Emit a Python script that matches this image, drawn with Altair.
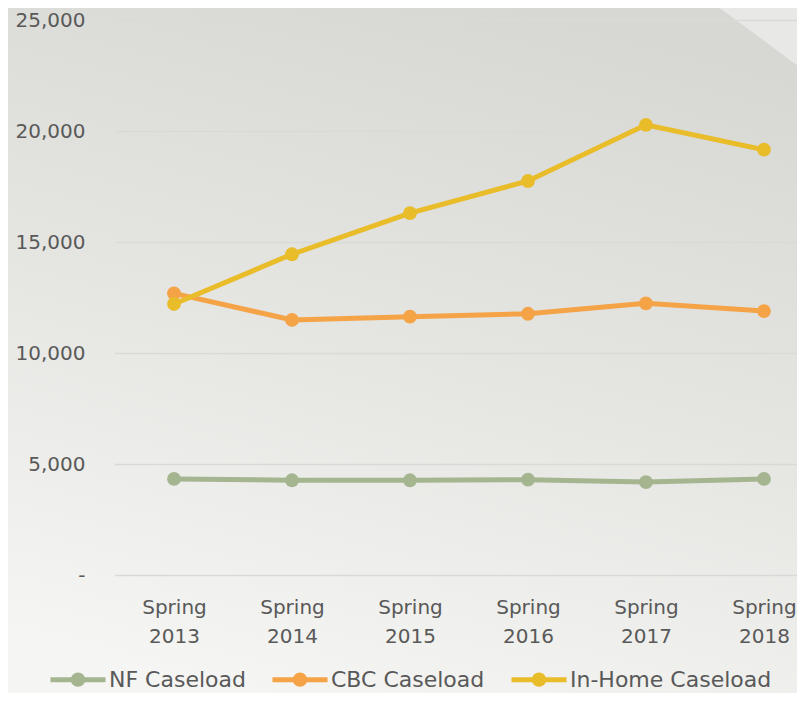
import altair as alt
import pandas as pd

periods = ["Spring 2013", "Spring 2014", "Spring 2015", "Spring 2016", "Spring 2017", "Spring 2018"]
nf_caseload = [4350, 4290, 4290, 4315, 4210, 4350]
cbc_caseload = [12710, 11510, 11660, 11790, 12260, 11910]
inhome_caseload = [12230, 14470, 16320, 17770, 20300, 19180]

series_names = ["NF Caseload", "CBC Caseload", "In-Home Caseload"]
series_colors = ["#a4b590", "#f5a347", "#e9bc2a"]
y_ticks = [0, 5000, 10000, 15000, 20000, 25000]
grid_values = [0, 5000, 10000, 15000, 20000, 25000]

rows = []
for name, vals in zip(series_names, [nf_caseload, cbc_caseload, inhome_caseload]):
    for p, v in zip(periods, vals):
        rows.append({"period": p, "series": name, "value": v})
df = pd.DataFrame(rows)

W, H = 682, 555
FONT = "DejaVu Sans"
TXT = "#595959"

x_enc = alt.X("period:O", sort=periods, title=None,
              scale=alt.Scale(type="point", padding=0.39, align=0.641),
              axis=alt.Axis(labelExpr="split(datum.label, ' ')", labelAngle=0,
                            labelFontSize=20, labelFont=FONT, labelColor=TXT,
                            labelLineHeight=29, labelPadding=22, ticks=False,
                            domain=False, grid=False, zindex=1))
y_scale = alt.Scale(domain=[0, 25000], nice=False)

bg = alt.Chart(alt.Data(values=[{}])).mark_rect(
    color=alt.LinearGradient(gradient="linear",
                             stops=[alt.GradientStop(offset=0, color="#d7d7d3"),
                                    alt.GradientStop(offset=0.5, color="#e5e5e2"),
                                    alt.GradientStop(offset=1, color="#f5f5f3")],
                             x1=0.65, y1=0, x2=0.35, y2=1)
).encode(x=alt.value(-110), x2=alt.value(W + 20), y=alt.value(-15), y2=alt.value(H + 130))

# lighter diagonal panel in the top-right corner (decoration)
corner = alt.Chart(alt.Data(values=[{}])).mark_point(
    shape="M 0 0 L 140 0 L 140 104 Z", size=4, filled=True,
    color="#e8e8e6", opacity=1, strokeWidth=0
).encode(x=alt.value(594), y=alt.value(-20.5))

grid = alt.Chart(pd.DataFrame({"g": grid_values})).mark_rule(
    color="#d9d9d7", strokeWidth=1.5
).encode(y=alt.Y("g:Q", scale=y_scale), x=alt.value(0), x2=alt.value(W + 20))

# horizontal line plus concentric rings forming a filled dot
symbol_path = ("M -1 0 L 1 0 "
               "M 0.17 0 A 0.17 0.17 0 1 1 -0.17 0 A 0.17 0.17 0 1 1 0.17 0 "
               "M 0.06 0 A 0.06 0.06 0 1 1 -0.06 0 A 0.06 0.06 0 1 1 0.06 0")

legend = alt.Legend(title=None, orient="none", direction="horizontal",
                    legendX=-67, legendY=629,
                    symbolType=symbol_path, symbolSize=3025,
                    symbolStrokeWidth=5, labelFontSize=22, labelLimit=400,
                    labelFont=FONT, labelColor=TXT, labelOffset=1,
                    columnPadding=16)

color_enc = alt.Color("series:N", sort=series_names,
                      scale=alt.Scale(domain=series_names, range=series_colors),
                      legend=legend)

y_enc = alt.Y("value:Q", scale=y_scale, title=None,
              axis=alt.Axis(values=y_ticks, grid=False, ticks=False, domain=False,
                            labelExpr="datum.value == 0 ? '-' : format(datum.value, ',')",
                            labelFontSize=20, labelFont=FONT, labelColor=TXT,
                            labelPadding=30, zindex=1))

lines = alt.Chart(df).mark_line(strokeWidth=5).encode(
    x=x_enc, y=y_enc, color=color_enc, detail="series:N")
points = alt.Chart(df).mark_point(filled=True, size=190, opacity=1).encode(
    x=alt.X("period:O", sort=periods), y=alt.Y("value:Q", scale=y_scale),
    color=color_enc)

chart = alt.layer(bg, corner, grid, lines, points).properties(
    width=W, height=H,
    padding={"left": 107, "top": 12.5, "right": 0, "bottom": 117.5},
    autosize=alt.AutoSizeParams(type="none"),
    background="#eeeeec",
).configure_view(strokeWidth=0)

chart.save("out.html", embed_options={"renderer": "svg", "actions": False})
